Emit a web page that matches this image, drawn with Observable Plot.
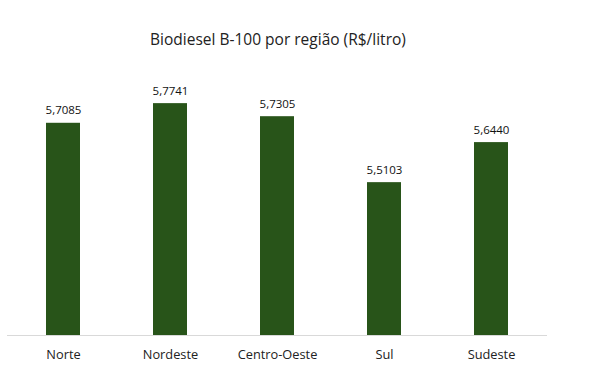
<!DOCTYPE html>
<html>
<head>
<meta charset="utf-8">
<script src="https://cdn.jsdelivr.net/npm/d3@7"></script>
<script src="https://cdn.jsdelivr.net/npm/@observablehq/plot@0.6"></script>
<style>
  html, body { margin: 0; padding: 0; background: #fff; }
  #wrap { width: 606px; height: 388px; position: relative; overflow: hidden; }
  #title { height: 55px; box-sizing: border-box; padding-top: 30px; padding-left: 0; width: 556px;
           text-align: center; font-family: "Open Sans", sans-serif; font-size: 15.5px; line-height: 19px; color: #222; }
</style>
</head>
<body>
<div id="wrap">
  <div id="title">Biodiesel B-100 por região (R$/litro)</div>
  <div id="chart"></div>
</div>
<script>
const regions = ["Norte", "Nordeste", "Centro-Oeste", "Sul", "Sudeste"];
const prices = [5.7085, 5.7741, 5.7305, 5.5103, 5.6440];
const data = regions.map((r, i) => ({region: r, price: prices[i]}));
const fmt = v => v.toFixed(4).replace(".", ",");

const chart = Plot.plot({
  width: 606,
  height: 333,
  marginLeft: 7,
  marginRight: 59,
  marginTop: 25.4,
  marginBottom: 53,
  style: {fontFamily: "Open Sans, sans-serif", background: "#fff"},
  x: {domain: regions, paddingInner: 0.685, paddingOuter: 0.3426, label: null},
  y: {domain: [5, 5.85], axis: null},
  marks: [
    Plot.barY(data, {x: "region", y1: 5, y2: "price", fill: "#285419"}),
    Plot.ruleY([5], {stroke: "#d9d9d9", strokeWidth: 1}),
    Plot.text(data, {x: "region", y: "price", text: d => fmt(d.price), dy: -9, lineAnchor: "bottom",
      fontSize: 11.5, fill: "#111", fontFamily: "Open Sans, sans-serif"}),
    Plot.axisX({tickSize: 0, tickPadding: 14, fontSize: 12.8, label: null, color: "#222",
      fontFamily: "Open Sans, sans-serif"})
  ]
});
document.getElementById("chart").appendChild(chart);
</script>
</body>
</html>
